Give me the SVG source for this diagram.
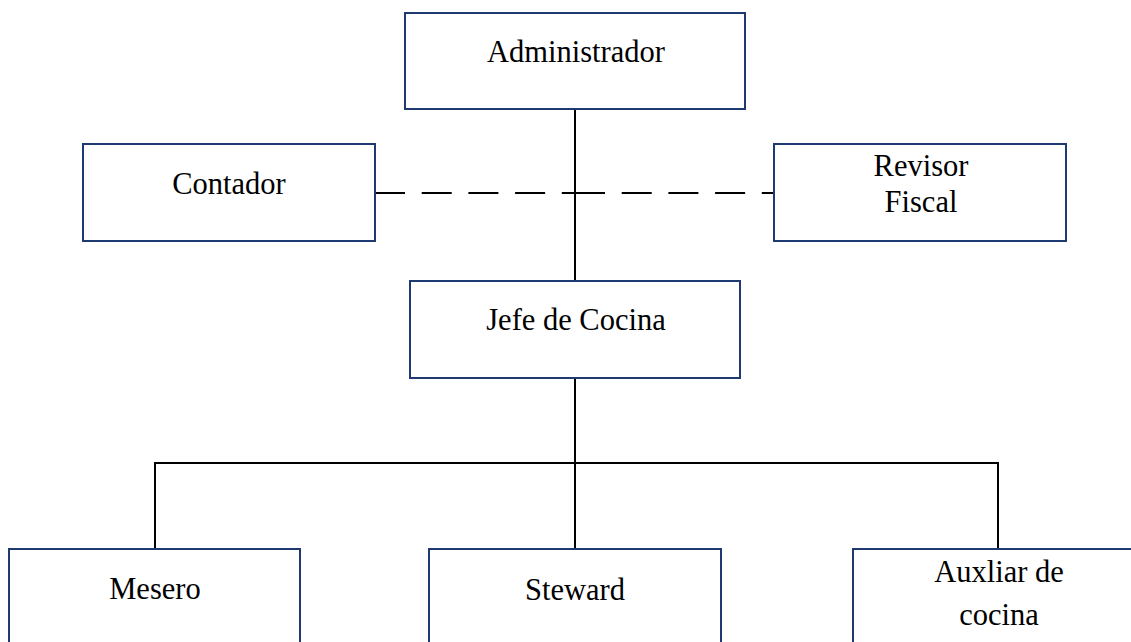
<svg xmlns="http://www.w3.org/2000/svg" width="1131" height="642" viewBox="0 0 1131 642">
  <style>
    .box { fill: #ffffff; stroke: #1f3a73; stroke-width: 2; }
    .label { font-family: "Liberation Serif", "Times New Roman", serif; font-size: 30.5px; fill: #000000; text-anchor: middle; }
    .link { fill: none; stroke: #000000; stroke-width: 2; }
    .dash { fill: none; stroke: #000000; stroke-width: 2; stroke-dasharray: 30 16.7; }
  </style>
  <rect width="1131" height="642" fill="#ffffff"/>

  <!-- connectors -->
  <g id="connectors">
    <line class="link" x1="575" y1="109" x2="575" y2="281"/>
    <line class="dash" x1="375" y1="193" x2="575" y2="193"/>
    <line class="dash" x1="575" y1="193" x2="774" y2="193"/>
    <line class="link" x1="575" y1="378" x2="575" y2="463"/>
    <polyline class="link" points="155,549 155,463 998,463 998,549"/>
    <line class="link" x1="575" y1="463" x2="575" y2="549"/>
  </g>

  <g id="administrador">
    <rect class="box" x="405" y="13" width="340" height="96"/>
    <text class="label" x="576" y="62">Administrador</text>
  </g>

  <g id="contador">
    <rect class="box" x="83" y="144" width="292" height="97"/>
    <text class="label" x="229" y="194">Contador</text>
  </g>

  <g id="revisor-fiscal">
    <rect class="box" x="774" y="144" width="292" height="97"/>
    <text class="label" x="921" y="176">Revisor</text>
    <text class="label" x="921" y="212">Fiscal</text>
  </g>

  <g id="jefe-de-cocina">
    <rect class="box" x="410" y="281" width="330" height="97"/>
    <text class="label" x="576" y="330">Jefe de Cocina</text>
  </g>

  <g id="mesero">
    <rect class="box" x="9" y="549" width="291" height="120"/>
    <text class="label" x="155" y="599">Mesero</text>
  </g>

  <g id="steward">
    <rect class="box" x="429" y="549" width="292" height="120"/>
    <text class="label" x="575" y="600">Steward</text>
  </g>

  <g id="auxiliar-de-cocina">
    <rect class="box" x="853" y="549" width="300" height="120"/>
    <text class="label" x="999" y="582">Auxliar de</text>
    <text class="label" x="999" y="625">cocina</text>
  </g>
</svg>
